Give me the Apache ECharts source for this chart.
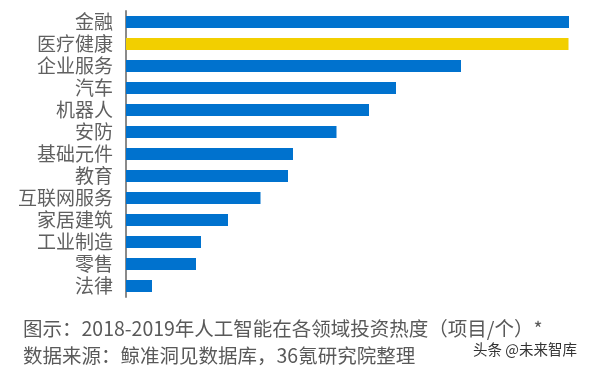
<!DOCTYPE html>
<html>
<head>
<meta charset="utf-8">
<script src="https://cdn.jsdelivr.net/npm/echarts@6/dist/echarts.min.js"></script>
<style>
html,body{margin:0;padding:0;background:#fff;}
#chart{width:593px;height:374px;}
</style>
</head>
<body>
<div id="chart"></div>
<script>
var categories = ['金融','医疗健康','企业服务','汽车','机器人','安防','基础元件','教育','互联网服务','家居建筑','工业制造','零售','法律'];
var values = [443, 442.5, 335, 270, 243, 210.5, 167, 162, 134.5, 102, 75, 70, 26];
var highlightCategory = '医疗健康';
var titleLine = '图示：2018-2019年人工智能在各领域投资热度（项目/个）*';
var sourceLine = '数据来源：鲸准洞见数据库，36氪研究院整理';
var watermark = '头条 @未来智库';

var FONT = '"Noto Sans CJK SC", "Microsoft YaHei", sans-serif';
var chart = echarts.init(document.getElementById('chart'));
chart.setOption({
  animation: false,
  backgroundColor: '#ffffff',
  grid: {left: 126, top: 11, height: 286, width: 460, containLabel: false},
  xAxis: {type: 'value', min: 0, max: 460, show: false},
  yAxis: {
    type: 'category', inverse: true, data: categories,
    axisLine: {show: true, lineStyle: {color: '#8a8a8a', width: 2}},
    axisTick: {show: false},
    splitLine: {show: false},
    axisLabel: {interval: 0, margin: 13, color: '#606060', fontSize: 19, fontFamily: FONT}
  },
  series: [{
    type: 'bar', barWidth: 12,
    data: values.map(function(v, i){
      return {value: v, itemStyle: {color: categories[i] === highlightCategory ? '#F2CF00' : '#0072CE'}};
    })
  }],
  graphic: [
    {type: 'text', left: 23, top: 319, style: {text: titleLine, fill: '#595959', font: '19.5px ' + FONT}},
    {type: 'text', left: 23, top: 346, style: {text: sourceLine, fill: '#595959', font: '19.5px ' + FONT}},
    {type: 'text', left: 473, top: 342, style: {text: watermark, fill: '#333333', font: '14.5px ' + FONT}}
  ]
});
</script>
</body>
</html>
